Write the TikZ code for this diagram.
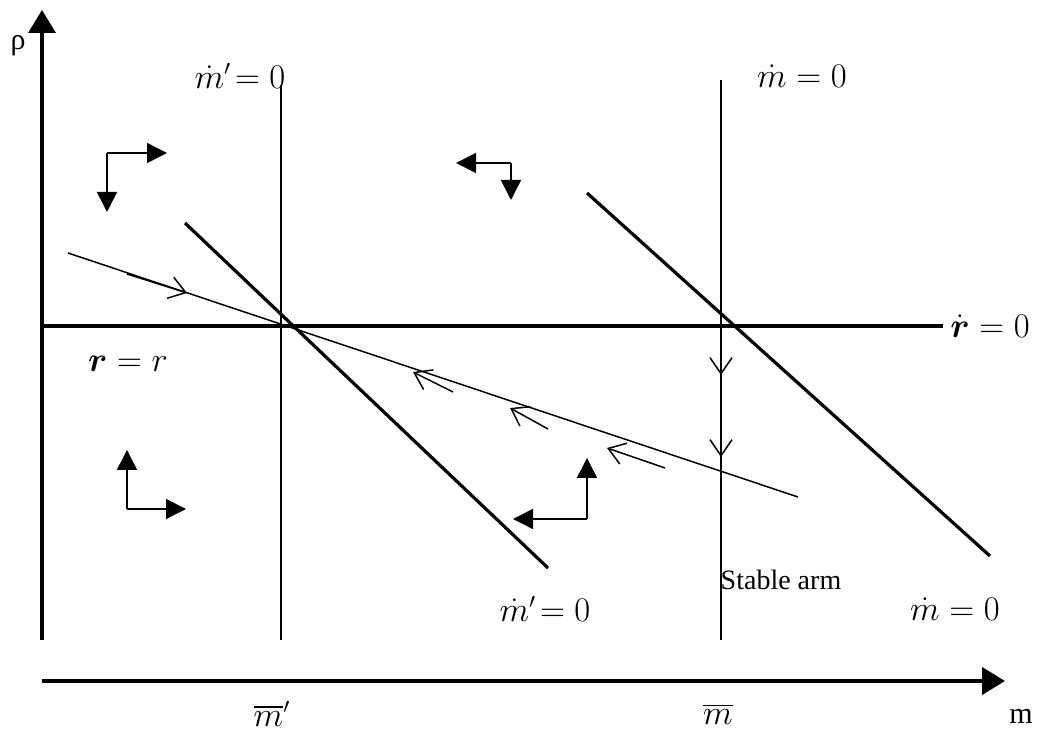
\documentclass[tikz,border=0pt]{standalone}
\usepackage{amsmath,amssymb}
\usepackage{fontspec}
\setmainfont{Liberation Serif}
\usepackage{tikz}
\usetikzlibrary{arrows.meta}

\tikzset{
  axisline/.style={line width=2pt, -{Triangle[length=11.5pt,width=13.5pt]}},
  nullcline/.style={line width=1.6pt},
  thinline/.style={line width=0.75pt},
  phasearrow/.style={line width=0.75pt, -{Triangle[length=10pt,width=10pt]}},
  flowarrow/.style={line width=0.75pt, -{Straight Barb[length=8pt,width=11pt]}},
  mathlabel/.style={font=\fontsize{16}{18}\selectfont, inner sep=1pt},
}

\begin{document}
\begin{tikzpicture}[x=0.5pt, y=-0.5pt, font=\fontsize{14}{16}\selectfont]
    \useasboundingbox (0,0) rectangle (1045,731);

    % axes
    \coordinate (origin) at (42,640);
    \coordinate (ytop) at (42,10);
    \coordinate (xleft) at (42,681);
    \coordinate (xright) at (1005,681);
    \draw[axisline] (origin) -- (ytop);
    \draw[axisline] (xleft) -- (xright);
    \node[font=\fontsize{15}{17}\selectfont] (rholabel) at (18,46) {ρ};
    \node[font=\fontsize{15}{17}\selectfont] (mlabel) at (1021,716) {m};
    \node[mathlabel] (mbarprime) at (272,714) {$\overline{m}'$};
    \node[mathlabel] (mbar) at (718,714) {$\overline{m}$};

    % rho-dot = 0
    \coordinate (rhoL) at (40,326);
    \coordinate (rhoR) at (943,326);
    \draw[nullcline] (rhoL) -- (rhoR);
    \node[mathlabel] (rhodot) at (990,326) {$\dot{\boldsymbol{r}} = 0$};
    \node[mathlabel] (rhobar) at (128,364) {$\boldsymbol{r} = r$};

    % vertical m'=0 and m=0
    \draw[thinline] (281,85) -- (281,640);
    \draw[thinline] (721,80) -- (721,640);
    \node[mathlabel] (mpTop) at (240,76) {$\dot{m}'\!=0$};
    \node[mathlabel] (mTop) at (802,76) {$\dot{m} = 0$};

    % sloped nullclines
    \draw[nullcline] (185,223) -- (548,568);
    \draw[nullcline] (587,193) -- (990,556);
    \node[mathlabel] (mpBot) at (545,609) {$\dot{m}'\!=0$};
    \node[mathlabel] (mBot) at (955,609) {$\dot{m} = 0$};

    % stable arm
    \draw[thinline] (68,253) -- (798,497);
    \node (stable) at (781,580) {Stable arm};
    \draw[flowarrow] (127,274) -- (187,293);
    \draw[flowarrow] (453,392) -- (413,372);
    \draw[flowarrow] (548,429) -- (510,408);
    \draw[flowarrow] (665,468) -- (607,448);
    \draw[flowarrow] (721,338) -- (721,375);
    \draw[flowarrow] (721,420) -- (721,457);

    % phase arrows
    \coordinate (ph1) at (107,153);
    \draw[phasearrow] (ph1) -- ++(60,0);
    \draw[phasearrow] (ph1) -- ++(0,59);
    \coordinate (ph2) at (511,163);
    \draw[phasearrow] (ph2) -- ++(-55,0);
    \draw[phasearrow] (ph2) -- ++(0,37);
    \coordinate (ph3) at (127,509);
    \draw[phasearrow] (ph3) -- ++(0,-59);
    \draw[phasearrow] (ph3) -- ++(59,0);
    \coordinate (ph4) at (587,519);
    \draw[phasearrow] (ph4) -- ++(0,-61);
    \draw[phasearrow] (ph4) -- ++(-74,0);
\end{tikzpicture}
\end{document}
